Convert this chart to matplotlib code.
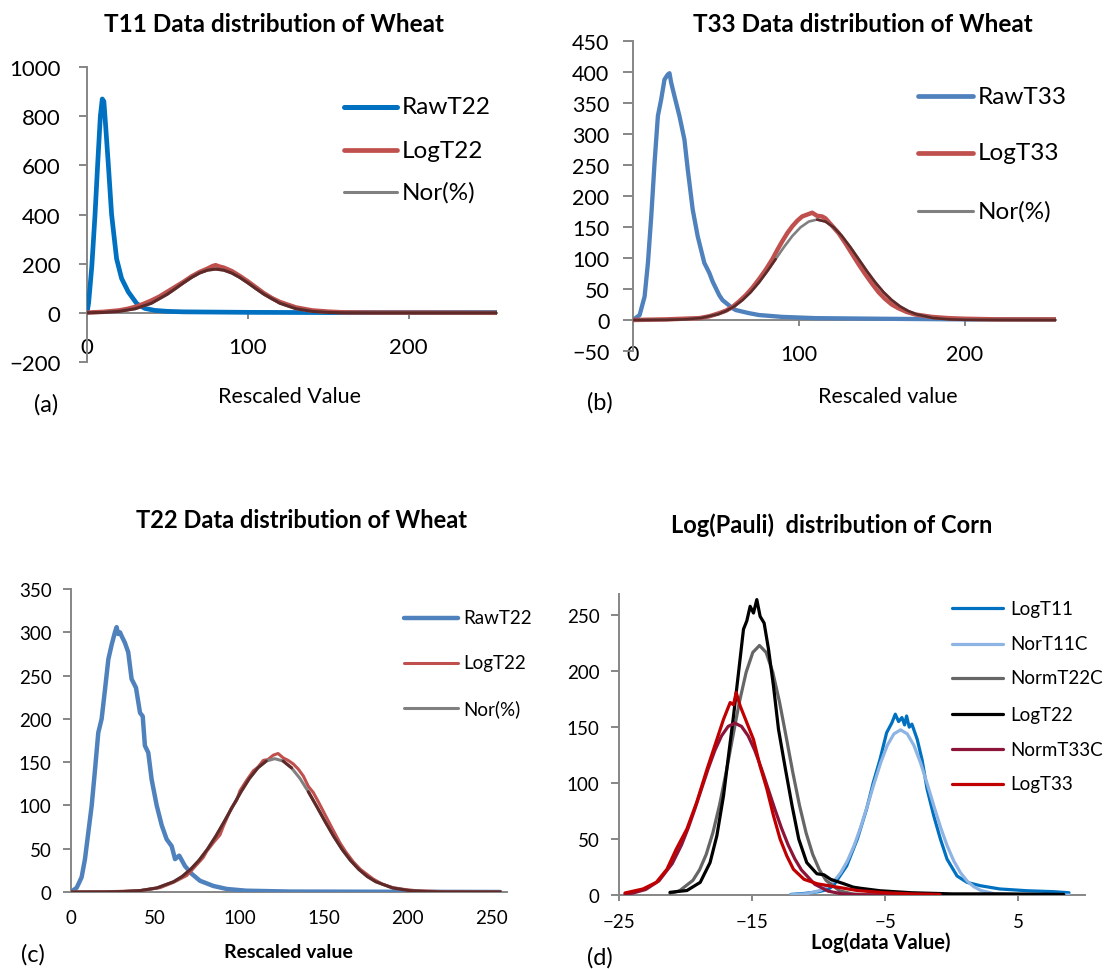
import numpy as np
import matplotlib.pyplot as plt
from matplotlib.lines import Line2D

# ---- (a) T11 wheat ----
a_raw_x = [0, 1, 3, 5, 6.6, 8.3, 9.5, 10.5, 11.6, 13.3, 15.3, 18.4, 21.5, 25.7, 31, 36, 42, 50, 60, 80, 100, 150, 200, 255]
a_raw_y = [0, 40, 190, 400, 600, 800, 870, 860, 760, 600, 400, 220, 140, 85, 37, 18, 10, 6, 4, 3, 2, 1, 1, 1]
a_log_x = [0, 10, 20, 25, 30, 35, 40, 45, 50, 55, 60, 65, 70, 75, 78, 80, 82, 85, 90, 95, 100, 105, 110, 115,
           120, 130, 140, 150, 160, 180, 210, 255]
a_log_y = [1, 4, 10, 16, 24, 36, 50, 66, 86, 106, 126, 148, 166, 180, 190, 194, 189, 184, 170, 150, 128, 104, 80, 60,
           44, 22, 10, 5, 2, 1, 1, 0]
a_nor_x = [0, 10, 20, 30, 40, 50, 55, 60, 65, 70, 75, 80, 85, 90, 95, 100, 105, 110, 120, 130, 140, 150, 160, 180, 255]
a_nor_y = [0.4, 1.7, 6, 16.8, 39, 76, 98.6, 122, 143.9, 162, 173.8, 178, 173.8, 162, 143.9, 122, 98.6, 76, 39, 16.8,
           6, 1.7, 0.4, 0, 0]

# ---- (b) T33 wheat ----
b_raw_x = [0, 4, 7, 9, 11, 13, 15, 17, 19, 21, 22, 23, 25, 28, 31, 33, 36, 39, 43, 46, 48, 52, 54, 60, 62, 70, 76,
           90, 110, 150, 200, 255]
b_raw_y = [0, 8, 38, 92, 167, 254, 329, 356, 388, 396, 398, 383, 361, 329, 291, 243, 178, 135, 92, 76, 62, 40, 32,
           19, 16, 11, 8, 5, 3, 2, 1, 1]
b_log_x = [0, 20, 30, 40, 46, 52, 56, 60, 64, 68, 72, 76, 80, 84, 87, 90, 93, 96, 99, 102, 105, 108, 111, 114, 116,
           120, 124, 128, 132, 136, 140, 144, 148, 152, 156, 160, 165, 170, 180, 190, 200, 220, 255]
b_log_y = [0, 1, 2, 3, 6, 11, 15, 21, 30, 40, 52, 66, 81, 98, 113, 127, 140, 151, 160, 167, 170, 173, 168, 167, 164,
           152, 140, 124, 107, 90, 74, 59, 45, 34, 25, 19, 13, 9, 5, 3, 2, 1, 1]
b_nor_x = [0, 21, 31, 41, 51, 56, 61, 66, 71, 76, 81, 86, 91, 96, 101, 106, 111, 116, 121, 126, 131, 136, 141, 146,
           151, 156, 161, 166, 171, 181, 191, 201, 255]
b_nor_y = [0, 0.3, 1, 3.2, 9.1, 14.4, 21.9, 32.1, 45, 60.8, 78.9, 98.3, 117.6, 135.3, 149.5, 158.8, 162, 158.8,
           149.5, 135.3, 117.6, 98.3, 78.9, 60.8, 45, 32.1, 21.9, 14.4, 9.1, 3.2, 1, 0.3, 0]

# ---- (c) T22 wheat ----
c_raw_x = [0, 3.4, 6.3, 8.3, 10.3, 12.3, 14.3, 16.2, 18.2, 20.2, 22.2, 24.2, 26.1, 27.1, 28, 29.1, 30, 32, 34, 36,
           38.6, 41, 42.6, 43.9, 45.9, 47.9, 50.9, 53.9, 56.8, 59.8, 61.8, 64.3, 67.7, 71.7, 76.6, 84.5, 92.5, 104,
           130, 180, 255]
c_raw_y = [0, 5, 17, 38, 69, 100, 142, 184, 200, 234, 269, 286, 300, 306, 298, 300, 296, 288, 277, 246, 236, 207,
           203, 169, 161, 130, 100, 77, 61, 53, 38, 42, 30, 21, 13, 7, 3.5, 1.5, 0.5, 0.3, 0]
c_log_x = [0, 20, 41, 52.9, 60.7, 68.7, 70.7, 78.6, 80.6, 85, 88.5, 90.5, 95, 98.4, 100.4, 104, 108.3, 111, 114.2,
           117, 120.1, 123, 126, 129, 132, 135, 138, 141, 143.9, 147, 151.8, 155, 159.7, 163, 167.6, 172, 179.5, 185,
           191.4, 198, 205, 220, 255]
c_log_y = [0, 0.2, 1.5, 5, 11, 19, 23, 40, 47, 58, 66, 76, 96, 106, 117, 128, 140, 144, 152, 153, 158, 160, 155,
           152, 148, 142, 134, 122, 115, 104, 86, 74, 57, 47, 35, 26, 15, 9, 5, 3, 1.5, 0.5, 0]
c_nor_x = [0, 21, 31, 41, 51, 61, 66, 71, 76, 81, 86, 91, 96, 101, 106, 111, 116, 121, 126, 131, 136, 141, 146, 151,
           156, 161, 166, 171, 176, 181, 191, 201, 211, 221, 255]
c_nor_y = [0, 0.1, 0.5, 1.6, 4.7, 11.9, 17.9, 26.1, 36.5, 49.3, 64.4, 81.2, 98.7, 115.8, 131.2, 143.4, 151.3, 154,
           151.3, 143.4, 131.2, 115.8, 98.7, 81.2, 64.4, 49.3, 36.5, 26.1, 17.9, 11.9, 4.7, 1.6, 0.5, 0.1, 0]

# ---- (d) Log(Pauli) corn ----
d_t11_x = [-12.1, -11, -10, -9.3, -8.9, -7.9, -7.1, -6.4, -5.9, -5.4, -4.9, -4.5, -4.25, -4.0, -3.75, -3.55, -3.4,
           -3.2, -3.0, -2.6, -2.24, -1.86, -1.36, -0.86, -0.36, 0.39, 1.14, 2.14, 3.6, 5.65, 7.6, 8.8]
d_t11_y = [0.5, 1.5, 3, 5, 8.3, 26, 50, 77, 100.6, 121, 145, 154, 161.6, 155, 158.6, 152, 160, 150, 152.7, 139, 121,
           94.6, 70.8, 50, 32, 17, 11.3, 8.3, 5.4, 3.8, 3, 2]
d_n11_x = [-12.1, -10.85, -9.85, -8.85, -8.35, -7.85, -7.35, -6.85, -6.35, -5.85, -5.35, -4.85, -4.35, -3.85, -3.35,
           -2.85, -2.35, -1.85, -1.35, -0.85, -0.35, 0.15, 0.65, 1.15, 1.65, 2.15, 3.15, 4.15, 6, 8.8]
d_n11_y = [0.2, 1.2, 4.2, 12.4, 19.9, 30.3, 43.9, 60.5, 79.5, 99.3, 118.1, 133.7, 144, 147.6, 144, 133.7, 118.1,
           99.3, 79.5, 60.5, 43.9, 30.3, 19.9, 12.4, 7.4, 4.2, 1.2, 0.25, 0, 0]
d_n22_x = [-21.17, -20.45, -19.45, -18.95, -18.45, -17.95, -17.45, -16.95, -16.45, -15.95, -15.45, -14.95, -14.45,
           -13.95, -13.45, -12.95, -12.45, -11.95, -11.45, -10.95, -10.45, -9.95, -9.45, -8.45, -7.45, -6.45, -3, 0,
           4, 8.4]
d_n22_y = [1.3, 3.8, 13.1, 22.5, 36.3, 55.6, 80.4, 109.8, 141.7, 172.8, 199.1, 216.8, 223, 216.8, 199.1, 172.8,
           141.7, 109.8, 80.4, 55.6, 36.3, 22.5, 13.1, 3.8, 0.9, 0.2, 0, 0, 0, 0]
d_t22_x = [-21.17, -19.9, -18.9, -18.16, -17.65, -17.15, -16.78, -16.4, -16.02, -15.65, -15.4, -15.15, -14.9,
           -14.65, -14.4, -14.1, -13.77, -13.4, -13.02, -12.5, -12.0, -11.5, -10.9, -10.14, -9.6, -9.1, -8.1, -7.4,
           -6.85, -5.4, -3, 0, 4, 8.4]
d_t22_y = [2.4, 4, 11.3, 29, 53, 88.7, 124, 160, 199, 237.5, 245, 258, 252, 264, 249, 243, 219.6, 187, 148, 112.5,
           79.7, 50, 29, 19, 18, 14, 10, 7, 6, 3.8, 2, 1, 1, 0.5]
d_n33_x = [-24.55, -24, -23, -22, -21, -20.3, -19.8, -19.3, -18.8, -18.3, -17.8, -17.3, -16.8, -16.3, -15.8, -15.3,
           -14.8, -14.3, -13.8, -13.3, -12.8, -12.3, -11.8, -11.3, -10.3, -9.3, -8.3, -7, -5, -3, -0.9]
d_n33_y = [0.8, 1.6, 4.9, 12.6, 28.1, 44.9, 59.9, 76.9, 94.9, 112.9, 129.2, 142.2, 150.7, 153.6, 150.7, 142.2,
           129.2, 112.9, 94.9, 76.9, 59.9, 44.9, 32.4, 22.4, 9.6, 3.5, 1.1, 0.2, 0, 0, 0]
d_t33_x = [-24.55, -23.2, -22.2, -21.4, -20.7, -19.9, -19.16, -18.4, -17.65, -17.15, -16.65, -16.4, -16.2, -15.9,
           -15.4, -14.9, -14.4, -13.9, -13.4, -12.9, -12.4, -11.9, -11.1, -10.1, -8.6, -7.1, -5, -3, -0.9]
d_t33_y = [1.8, 5.4, 11.3, 23, 41, 59, 83, 112, 139, 157, 172, 170, 181, 169, 154, 139, 115, 95, 71, 50, 35, 23, 14,
           10, 7, 4, 2, 1, 0.5]

W, H = 1106, 970
plt.rcParams['font.family'] = ['Lato', 'DejaVu Sans']

AXIS_GRAY = '#868686'
RED = '#C0504D'
GRAY = '#808080'
DARK = '#602827'   # gray laid over the red curve

fig = plt.figure(figsize=(W / 100, H / 100), dpi=100)


def fx(x):
    return x / W


def fy(y):
    return 1 - y / H


def make_axes(box, xlim, ylim, xticks, yticks, fs, ylen, ypad, xlen, xpad):
    l, t, r, b = box
    ax = fig.add_axes([fx(l), fy(b), (r - l) / W, (b - t) / H])
    ax.set_xlim(xlim)
    ax.set_ylim(ylim)
    ax.set_xticks(xticks)
    ax.set_yticks(yticks)
    ax.spines['top'].set_visible(False)
    ax.spines['right'].set_visible(False)
    ax.spines['bottom'].set_position(('data', 0))
    for s in ('left', 'bottom'):
        ax.spines[s].set_color(AXIS_GRAY)
        ax.spines[s].set_linewidth(1.4)
    ax.tick_params(direction='out', width=1.4, color=AXIS_GRAY, labelsize=fs)
    ax.tick_params(axis='y', length=ylen, pad=ypad)
    ax.tick_params(axis='x', length=xlen, pad=xpad)
    ax.patch.set_alpha(0)
    # pixels per data unit, used for overlap test of the fitted curve
    ax.px_scale = ((r - l) / (xlim[1] - xlim[0]), (b - t) / (ylim[1] - ylim[0]))
    return ax


def curve(ax, x, y, color, lw, z=3):
    ax.plot(x, y, color=color, lw=lw, solid_capstyle='round', solid_joinstyle='round', zorder=z)


def fit_curve(ax, x, y, rx, ry, lw, tol=4.0):
    x, y = np.asarray(x, float), np.asarray(y, float)
    curve(ax, x, y, GRAY, lw, z=4)
    sx, sy = ax.px_scale
    gap = (y - np.interp(x, rx, ry)) * sy
    slope = np.gradient(y, x) * sy / sx
    dist = np.abs(gap) / np.sqrt(1 + slope ** 2)
    ax.plot(x, np.where(dist < tol, y, np.nan), color=DARK, lw=lw,
            solid_capstyle='round', solid_joinstyle='round', zorder=5)


def legend_rows(x0, x1, xt, rows, fs):
    for y, label, color, lw in rows:
        fig.add_artist(Line2D([fx(x0), fx(x1)], [fy(y), fy(y)], color=color, lw=lw,
                              solid_capstyle='round'))
        fig.text(fx(xt), fy(y), label, fontsize=fs, va='center', ha='left')


def label(x, y, text, fs, weight='normal'):
    fig.text(fx(x), fy(y), text, fontsize=fs, ha='center', va='center', fontweight=weight)


# (a)
ax = make_axes((87, 68, 497, 363), (0, 255), (-200, 1000), [0, 100, 200], range(-200, 1001, 200),
               16, 6, 13, 4.5, 13)
curve(ax, a_raw_x, a_raw_y, '#0070C0', 3.4)
curve(ax, a_log_x, a_log_y, RED, 3.2)
fit_curve(ax, a_nor_x, a_nor_y, a_log_x, a_log_y, 2.2)
label(274, 24, 'T11 Data distribution of Wheat', 17.5, 'bold')
label(289, 397, 'Rescaled Value', 15.5)
label(46, 405, '(a)', 17)
legend_rows(344, 397, 402, [(108, 'RawT22', '#0070C0', 3.6), (151, 'LogT22', RED, 3.4),
                            (193, 'Nor(%)', GRAY, 2.2)], 17.5)

# (b)
ax = make_axes((633, 42, 1056, 352), (0, 255), (-50, 450), [0, 100, 200], range(-50, 451, 50),
               15.5, 7, 10, 4, 13)
curve(ax, b_raw_x, b_raw_y, '#4F81BD', 3.1)
curve(ax, b_log_x, b_log_y, RED, 3.2)
fit_curve(ax, b_nor_x, b_nor_y, b_log_x, b_log_y, 1.9)
label(863, 24, 'T33 Data distribution of Wheat', 17.5, 'bold')
label(888, 397, 'Rescaled value', 15.5)
label(600, 403, '(b)', 17)
legend_rows(918, 973, 978, [(97, 'RawT33', '#4F81BD', 3.4), (154, 'LogT33', RED, 3.4),
                            (212, 'Nor(%)', GRAY, 2.2)], 17.5)

# (c)
ax = make_axes((71, 590, 507, 893), (0, 259), (0, 350), range(0, 251, 50), range(0, 351, 50),
               13.5, 6, 8, 0, 12)
curve(ax, c_raw_x, c_raw_y, '#4F81BD', 3.2)
curve(ax, c_log_x, c_log_y, RED, 2.2)
fit_curve(ax, c_nor_x, c_nor_y, c_log_x, c_log_y, 2.2)
label(301, 521, 'T22 Data distribution of Wheat', 17, 'bold')
label(288, 953, 'Rescaled value', 14, 'bold')
label(33, 955, '(c)', 17)
legend_rows(404, 458, 463, [(619, 'RawT22', '#4F81BD', 3.2), (664, 'LogT22', RED, 2.2),
                            (709, 'Nor(%)', GRAY, 2.2)], 13.5)

# (d)
ax = make_axes((619, 595, 1085, 896), (-25, 10), (0, 269), [-25, -15, -5, 5], range(0, 251, 50),
               13.5, 6, 8, 4, 9)
curve(ax, d_t11_x, d_t11_y, '#0070C0', 2.3)
curve(ax, d_n11_x, d_n11_y, '#8DB4E2', 2.3)
curve(ax, d_n22_x, d_n22_y, '#666666', 2.3)
curve(ax, d_t22_x, d_t22_y, '#000000', 2.3)
curve(ax, d_n33_x, d_n33_y, '#8C1438', 2.3)
curve(ax, d_t33_x, d_t33_y, '#C00000', 2.3)
label(832, 525, 'Log(Pauli)  distribution of Corn', 17, 'bold')
label(881, 943, 'Log(data Value)', 14.5, 'bold')
label(600, 958, '(d)', 17)
legend_rows(952, 1003, 1010, [(609, 'LogT11', '#0070C0', 2.3), (645, 'NorT11C', '#8DB4E2', 2.3),
                              (679, 'NormT22C', '#666666', 2.3), (715, 'LogT22', '#000000', 2.3),
                              (750, 'NormT33C', '#8C1438', 2.3), (785, 'LogT33', '#C00000', 2.3)], 13.5)

fig.savefig('out.png', dpi=100)
